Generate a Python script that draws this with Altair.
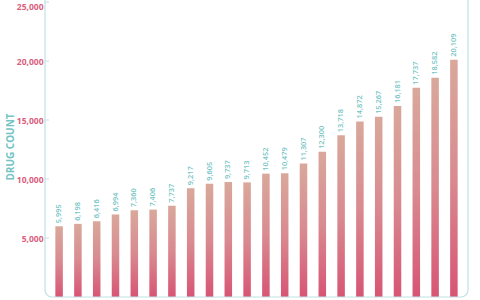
import altair as alt
import pandas as pd

values = [5995, 6198, 6416, 6994, 7360, 7406, 7737, 9217, 9605, 9737, 9713,
          10452, 10479, 11307, 12300, 13718, 14872, 15267, 16181, 17737, 18582, 20109]
labels = ["5,995", "6,198", "6,416", "6,994", "7,360", "7,406", "7,737", "9,217",
          "9,605", "9,737", "9,713", "10,452", "10,479", "11,307", "12,300", "13,718",
          "14,872", "15,267", "16,181", "17,737", "18,582", "20,109"]
y_ticks = [5000, 10000, 15000, 20000, 25000]

df = pd.DataFrame({"idx": list(range(len(values))), "value": values, "label": labels})
ticks_df = pd.DataFrame({"value": y_ticks})

W, H = 423, 297
TEAL = "#74c4c4"
PINK = "#d9607e"
FRAME = "#bfe2e2"

xs = alt.X("idx:O", axis=None,
           scale=alt.Scale(paddingInner=0.6, paddingOuter=0.55))
ys = alt.Scale(domain=[0, 25170], nice=False)
yaxis = alt.Axis(values=y_ticks, labelExpr="format(datum.value, ',')",
                 domain=False, ticks=False, labelFlush=5,
                 grid=False, labelColor=PINK, labelFont="Open Sans",
                 labelFontWeight="bold", labelFontSize=8.5, labelPadding=2,
                 title="DRUG COUNT", titleColor=TEAL, titleFont="Open Sans",
                 titleFontWeight="bold", titleFontSize=10,
                 titleAngle=270, titleBaseline="middle", titleX=-35,
                 titleY=H / 2 - 2)

def Y():
    return alt.Y("value:Q", scale=ys, axis=yaxis, title="DRUG COUNT")

grad = alt.LinearGradient(
    gradient="linear", x1=0, x2=0, y1=0, y2=1,
    stops=[alt.GradientStop(color="#d9a89b", offset=0),
           alt.GradientStop(color="#d98a90", offset=0.5),
           alt.GradientStop(color="#d75574", offset=1)])

bars = alt.Chart(df).mark_bar(color=grad).encode(x=xs, y=Y())

text = alt.Chart(df).mark_text(angle=270, align="left", baseline="middle", dx=3,
                               color=TEAL, font="Open Sans", fontSize=7.4,
                               fontWeight=600).encode(
    x=xs, y=Y(), text="label:N")

tickmarks = alt.Chart(ticks_df).mark_rule(color=FRAME, strokeWidth=1).encode(
    y=Y(), x=alt.value(0), x2=alt.value(4))

frame = alt.Chart(ticks_df.head(1)).mark_rect(
    fill=None, fillOpacity=0, stroke=FRAME, strokeWidth=1.2, cornerRadius=7).encode(
    x=alt.value(0), x2=alt.value(W), y=alt.value(-30), y2=alt.value(H))

chart = alt.layer(bars, text, tickmarks, frame).properties(
    width=W, height=H,
    autosize=alt.AutoSizeParams(type="none"),
    padding={"left": 45, "top": 0, "right": 12, "bottom": 3},
).configure_view(stroke=None)

chart.save("out.html", embed_options={"renderer": "svg", "actions": False})
